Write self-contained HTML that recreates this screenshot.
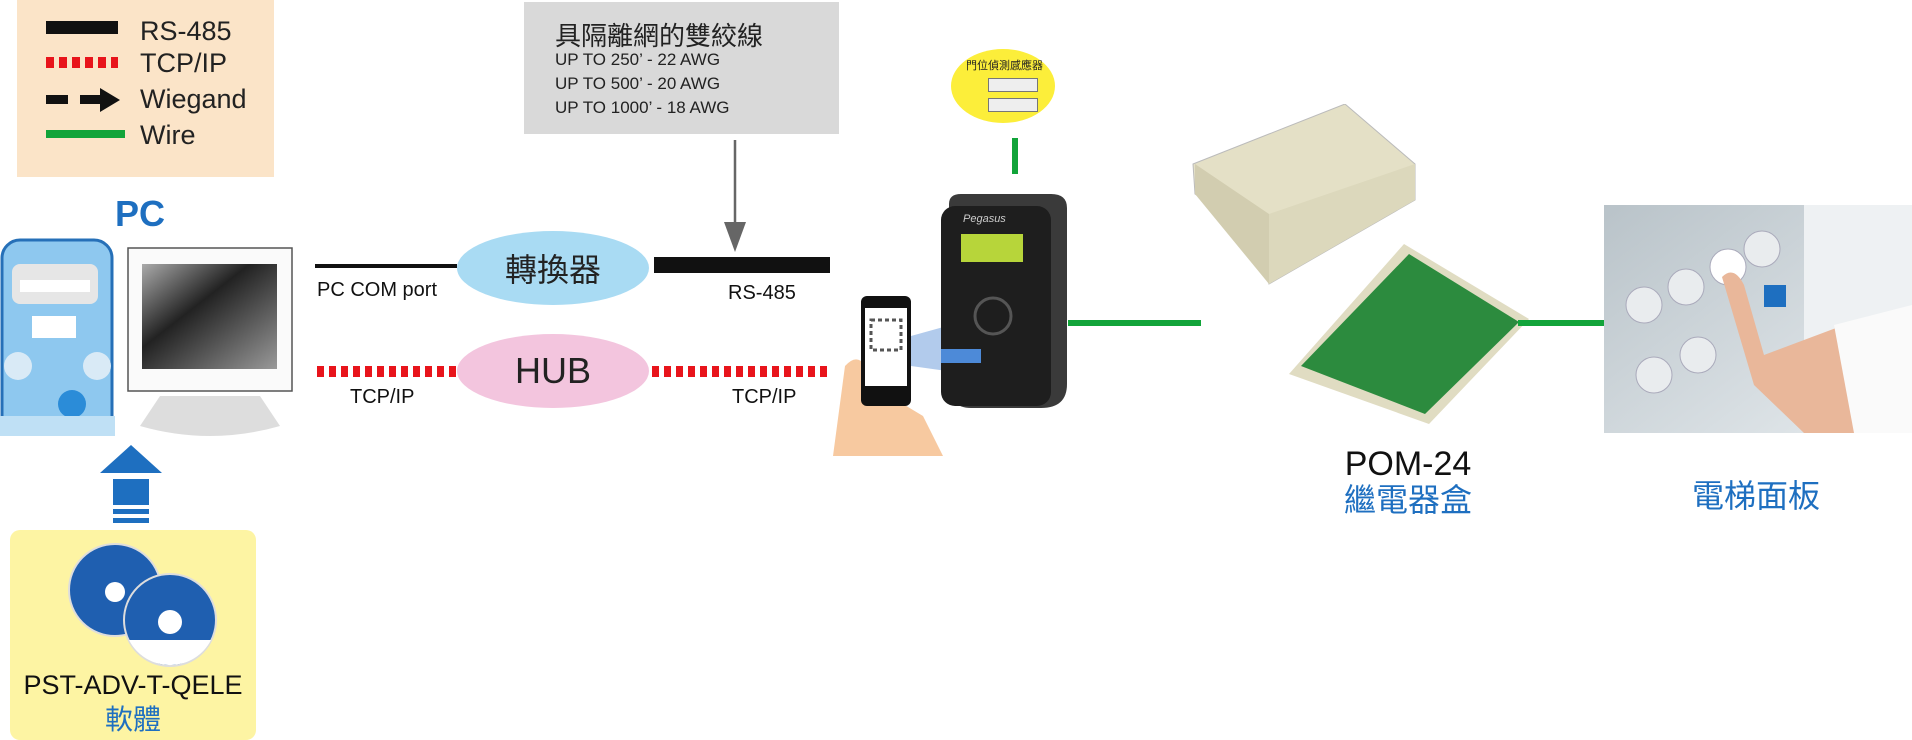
<!DOCTYPE html>
<html><head><meta charset="utf-8">
<style>
*{margin:0;padding:0;box-sizing:border-box}
body{width:1912px;height:740px;background:#fff;position:relative;overflow:hidden;font-family:"Liberation Sans","Noto Sans CJK TC",sans-serif}
.a{position:absolute}
.t{position:absolute;white-space:nowrap;line-height:1}
.ell{position:absolute;border-radius:50%/50%;display:flex;align-items:center;justify-content:center}
</style></head><body>

<!-- Legend -->
<div class="a" style="left:17px;top:0;width:257px;height:177px;background:#fbe4c8"></div>
<div class="a" style="left:46px;top:21px;width:72px;height:13px;background:#111"></div>
<div class="t" style="left:140px;top:18px;font-size:27px;color:#222">RS-485</div>
<div class="a" style="left:46px;top:57px;width:72px;height:11px;background:repeating-linear-gradient(90deg,#e8141b 0 8px,transparent 8px 13px)"></div>
<div class="t" style="left:140px;top:50px;font-size:27px;color:#222">TCP/IP</div>
<div class="a" style="left:46px;top:95px;width:22px;height:9px;background:#111"></div>
<div class="a" style="left:80px;top:95px;width:22px;height:9px;background:#111"></div>
<svg class="a" style="left:100px;top:88px" width="22" height="24"><polygon points="0,0 20,12 0,24" fill="#111"/></svg>
<div class="t" style="left:140px;top:86px;font-size:27px;color:#222">Wiegand</div>
<div class="a" style="left:46px;top:130px;width:79px;height:8px;background:#12a43a"></div>
<div class="t" style="left:140px;top:122px;font-size:27px;color:#222">Wire</div>

<!-- PC -->
<div class="t" style="left:115px;top:196px;font-size:36px;font-weight:bold;color:#1e6fc0">PC</div>
<svg class="a" style="left:0;top:236px" width="300" height="210">
 <rect x="2" y="4" width="110" height="194" rx="18" fill="#8ec8ef" stroke="#2670b8" stroke-width="3"/>
 <rect x="12" y="28" width="86" height="40" rx="8" fill="#e6e6e6"/>
 <rect x="20" y="44" width="70" height="12" fill="#fff"/>
 <rect x="32" y="80" width="44" height="22" fill="#fff"/>
 <circle cx="18" cy="130" r="14" fill="#d9eaf6"/><circle cx="97" cy="130" r="14" fill="#d9eaf6"/>
 <circle cx="72" cy="168" r="14" fill="#2b8cd8"/>
 <rect x="0" y="180" width="115" height="20" fill="#bfe0f5"/>
 <rect x="128" y="12" width="164" height="143" fill="#fafafa" stroke="#555" stroke-width="1.5"/>
 <defs><linearGradient id="g" x1="0" y1="0" x2="1" y2="1"><stop offset="0" stop-color="#aaa"/><stop offset=".4" stop-color="#222"/><stop offset="1" stop-color="#999"/></linearGradient></defs>
 <rect x="142" y="28" width="135" height="105" fill="url(#g)"/>
 <path d="M160 160 h100 l20 30 q-70 20 -140 0z" fill="#ddd"/>
</svg>
<svg class="a" style="left:100px;top:445px" width="62" height="82">
 <polygon points="31,0 62,28 0,28" fill="#1e6fc0"/>
 <rect x="13" y="34" width="36" height="26" fill="#1e6fc0"/>
 <rect x="13" y="64" width="36" height="5" fill="#1e6fc0"/>
 <rect x="13" y="73" width="36" height="5" fill="#1e6fc0"/>
</svg>
<div class="a" style="left:10px;top:530px;width:246px;height:210px;background:#fdf4a3;border-radius:10px"></div>
<svg class="a" style="left:65px;top:540px" width="160" height="135">
 <circle cx="50" cy="50" r="46" fill="#1f5fb0" stroke="#ddd" stroke-width="2"/>
 <circle cx="50" cy="52" r="10" fill="#fff"/>
 <circle cx="105" cy="80" r="46" fill="#1f5fb0" stroke="#ddd" stroke-width="2"/>
 <circle cx="105" cy="82" r="12" fill="#fff"/>
 <path d="M64 100 a46 46 0 0 0 82 0z" fill="#fff"/>
</svg>
<div class="t" style="left:10px;top:672px;width:246px;text-align:center;font-size:27px;color:#111">PST-ADV-T-QELE</div>
<div class="t" style="left:10px;top:706px;width:246px;text-align:center;font-size:28px;color:#1e6fc0">軟體</div>

<!-- grey note -->
<div class="a" style="left:524px;top:2px;width:315px;height:132px;background:#d9d9d9"></div>
<div class="t" style="left:555px;top:23px;font-size:26px;color:#222">具隔離網的雙絞線</div>
<div class="t" style="left:555px;top:51px;font-size:17px;color:#222">UP TO 250’ - 22 AWG</div>
<div class="t" style="left:555px;top:75px;font-size:17px;color:#222">UP TO 500’ - 20 AWG</div>
<div class="t" style="left:555px;top:99px;font-size:17px;color:#222">UP TO 1000’ - 18 AWG</div>
<svg class="a" style="left:722px;top:140px" width="26" height="112">
 <line x1="13" y1="0" x2="13" y2="90" stroke="#666" stroke-width="2.5"/>
 <polygon points="2,82 24,82 13,112" fill="#666"/>
</svg>

<!-- lines -->
<div class="a" style="left:315px;top:264px;width:142px;height:4px;background:#111"></div>
<div class="t" style="left:317px;top:280px;font-size:20px;color:#111">PC COM port</div>
<div class="ell" style="left:457px;top:231px;width:192px;height:74px;background:#a9dbf3;font-size:32px;color:#222">轉換器</div>
<div class="a" style="left:654px;top:257px;width:176px;height:16px;background:#111"></div>
<div class="t" style="left:728px;top:283px;font-size:20px;color:#111">RS-485</div>

<div class="a" style="left:317px;top:366px;width:140px;height:11px;background:repeating-linear-gradient(90deg,#e8141b 0 7px,transparent 7px 12px)"></div>
<div class="ell" style="left:457px;top:334px;width:192px;height:74px;background:#f3c5de;font-size:36px;color:#222">HUB</div>
<div class="a" style="left:652px;top:366px;width:178px;height:11px;background:repeating-linear-gradient(90deg,#e8141b 0 7px,transparent 7px 12px)"></div>
<div class="t" style="left:350px;top:387px;font-size:20px;color:#111">TCP/IP</div>
<div class="t" style="left:732px;top:387px;font-size:20px;color:#111">TCP/IP</div>

<!-- phone & reader -->
<svg class="a" style="left:833px;top:296px" width="240" height="160">
 <path d="M0 160 L12 70 Q30 50 40 90 L90 120 L110 160Z" fill="#f7c9a0"/>
 <rect x="28" y="0" width="50" height="110" rx="6" fill="#111"/>
 <rect x="32" y="12" width="42" height="78" fill="#fff"/>
 <rect x="38" y="24" width="30" height="30" fill="#fff" stroke="#555" stroke-width="3" stroke-dasharray="4 3"/>
 <polygon points="78,40 150,20 150,80 78,70" fill="#7ea9e0" opacity=".6"/>
</svg>
<svg class="a" style="left:941px;top:194px" width="128" height="216">
 <path d="M8 10 Q8 0 20 0 H110 Q126 0 126 14 V190 Q126 214 100 214 H30 Q8 214 8 190Z" fill="#3a3a3a"/>
 <rect x="0" y="12" width="110" height="200" rx="14" fill="#1e1e1e"/>
 <rect x="20" y="40" width="62" height="28" fill="#b7d53a"/>
 <circle cx="52" cy="122" r="18" fill="none" stroke="#555" stroke-width="3"/>
 <rect x="0" y="155" width="40" height="14" fill="#4d8ad8"/>
 <text x="22" y="28" font-size="11" fill="#ccc" font-style="italic" font-family="Liberation Sans">Pegasus</text>
</svg>
<div class="a" style="left:951px;top:49px;width:104px;height:74px;border-radius:50%;background:#fcee3a"></div>
<div class="t" style="left:966px;top:61px;font-size:11px;color:#222">門位偵測感應器</div>
<div class="a" style="left:988px;top:78px;width:50px;height:14px;border:1px solid #777;background:#eee"></div>
<div class="a" style="left:988px;top:98px;width:50px;height:14px;border:1px solid #777;background:#eee"></div>
<div class="a" style="left:1012px;top:138px;width:6px;height:36px;background:#12a43a"></div>
<div class="a" style="left:1068px;top:320px;width:133px;height:6px;background:#12a43a"></div>

<!-- POM -->
<svg class="a" style="left:1189px;top:104px" width="345" height="320">
 <polygon points="4,60 156,0 226,60 226,96 80,180 70,130 6,90" fill="#e4e0c6" stroke="#bbb"/>
 <polygon points="6,60 80,110 80,180 6,90" fill="#d2cdb0"/>
 <polygon points="80,110 226,60 226,96 80,180" fill="#dcd8bc"/>
 <polygon points="100,270 215,140 340,215 240,320" fill="#e0dcc2"/>
 <polygon points="112,262 220,150 330,218 236,310" fill="#2c8b3e"/>
</svg>
<div class="t" style="left:1308px;top:447px;width:200px;text-align:center;font-size:34px;color:#111">POM-24</div>
<div class="t" style="left:1308px;top:484px;width:200px;text-align:center;font-size:32px;color:#1e6fc0">繼電器盒</div>
<div class="a" style="left:1518px;top:320px;width:86px;height:6px;background:#12a43a"></div>

<!-- elevator -->
<svg class="a" style="left:1604px;top:205px" width="308" height="228">
 <defs><linearGradient id="e" x1="0" y1="0" x2="1" y2="1"><stop offset="0" stop-color="#b9c3c9"/><stop offset="1" stop-color="#e6ebee"/></linearGradient></defs>
 <rect width="308" height="228" fill="url(#e)"/>
 <rect x="200" y="0" width="108" height="228" fill="#eef1f3"/>
 <circle cx="40" cy="100" r="18" fill="#e9ecee" stroke="#aab"/>
 <circle cx="82" cy="82" r="18" fill="#e9ecee" stroke="#aab"/>
 <circle cx="124" cy="62" r="18" fill="#fff" stroke="#aab"/>
 <circle cx="158" cy="44" r="18" fill="#e9ecee" stroke="#aab"/>
 <circle cx="50" cy="170" r="18" fill="#e9ecee" stroke="#aab"/>
 <circle cx="94" cy="150" r="18" fill="#e9ecee" stroke="#aab"/>
 <rect x="160" y="80" width="22" height="22" fill="#1e6fc0"/>
 <path d="M118 72 Q130 60 140 80 L160 150 L240 120 L308 110 V228 H200 L150 180Z" fill="#e9b79a"/>
 <path d="M230 120 L308 100 V228 H250Z" fill="#fafafa"/>
</svg>
<div class="t" style="left:1656px;top:480px;width:200px;text-align:center;font-size:32px;color:#1e6fc0">電梯面板</div>
</body></html>
